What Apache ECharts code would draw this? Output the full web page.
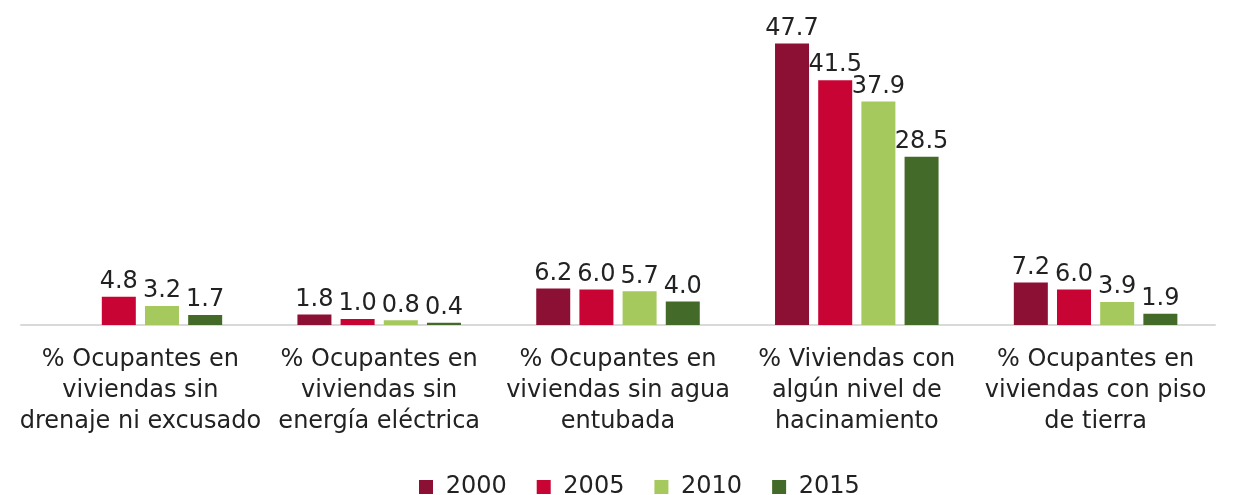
<!DOCTYPE html>
<html>
<head>
<meta charset="utf-8">
<script src="https://cdn.jsdelivr.net/npm/echarts@6/dist/echarts.min.js"></script>
<style>
  html, body { margin: 0; padding: 0; background: #fff; }
  #chart { width: 1236px; height: 495px; }
</style>
</head>
<body>
<div id="chart"></div>
<script>
// categorías del eje
const categories = [
  '% Ocupantes en\nviviendas sin\ndrenaje ni excusado',
  '% Ocupantes en\nviviendas sin\nenergía eléctrica',
  '% Ocupantes en\nviviendas sin agua\nentubada',
  '% Viviendas con\nalgún nivel de\nhacinamiento',
  '% Ocupantes en\nviviendas con piso\nde tierra'
]
// valores por año
const years = ['2000', '2005', '2010', '2015']
const values2000 = [null, 1.8, 6.2, 47.7, 7.2]
const values2005 = [4.8, 1.0, 6.0, 41.5, 6.0]
const values2010 = [3.2, 0.8, 5.7, 37.9, 3.9]
const values2015 = [1.7, 0.4, 4.0, 28.5, 1.9]
const colors = ['#8C1034', '#C70433', '#A6C95E', '#436A28']

const seriesValues = [values2000, values2005, values2010, values2015]
const font = '"DejaVu Sans", sans-serif'

const chart = echarts.init(document.getElementById('chart'))
chart.setOption({
  animation: false,
  grid: { left: 21, right: 21, top: 30, bottom: 170 },
  legend: {
    top: 470,
    left: 414,
    itemWidth: 14,
    itemHeight: 14,
    itemGap: 30,
    icon: 'rect',
    formatter: name => ' ' + name,
    textStyle: { fontFamily: font, fontSize: 24, color: '#222' },
    data: years
  },
  xAxis: {
    type: 'category',
    data: categories,
    axisLine: { lineStyle: { color: '#d9d9d9', width: 2 } },
    axisTick: { show: false },
    axisLabel: {
      interval: 0,
      margin: 19,
      fontFamily: font,
      fontSize: 24,
      lineHeight: 31,
      color: '#222'
    }
  },
  yAxis: {
    type: 'value',
    min: 0,
    max: 50,
    show: false,
    splitLine: { show: false }
  },
  series: years.map((y, i) => ({
    name: y,
    type: 'bar',
    data: seriesValues[i],
    barWidth: 34,
    barGap: '27%',
    itemStyle: { color: colors[i] },
    label: {
      show: true,
      position: 'top',
      distance: 3,
      formatter: p => p.value.toFixed(1),
      fontFamily: font,
      fontSize: 24,
      color: '#222'
    }
  }))
})
</script>
</body>
</html>
